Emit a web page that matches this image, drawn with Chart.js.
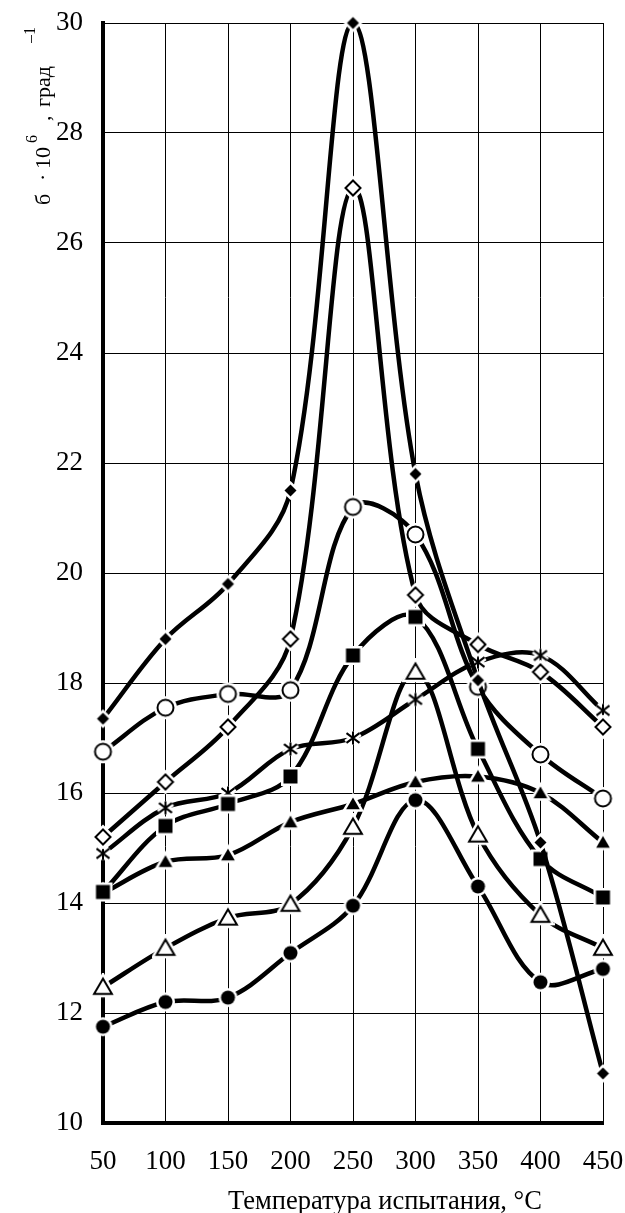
<!DOCTYPE html>
<html>
<head>
<meta charset="utf-8">
<script src="https://cdn.jsdelivr.net/npm/chart.js@4/dist/chart.umd.min.js"></script>
<style>
  html, body { margin: 0; padding: 0; background: #fff; }
  canvas { display: block; }
</style>
</head>
<body>
<canvas id="chart" width="625" height="1213"></canvas>
<script>
// temperature, °C
const temps = [50, 100, 150, 200, 250, 300, 350, 400, 450]
const yTicks = [10, 12, 14, 16, 18, 20, 22, 24, 26, 28, 30]

// б·10^6 per series (marker shape in the name)
const filledDiamond = [17.35, 18.8, 19.8, 21.5, 30.0, 21.8, 18.05, 15.1, 10.9]
const openDiamond = [15.2, 16.2, 17.2, 18.8, 27.0, 19.6, 18.7, 18.2, 17.2]
const openCircle = [16.75, 17.55, 17.8, 17.87, 21.2, 20.7, 17.93, 16.7, 15.9]
const filledSquare = [14.2, 15.4, 15.8, 16.3, 18.5, 19.2, 16.8, 14.8, 14.1]
const asterisk = [14.9, 15.73, 16.0, 16.8, 17.0, 17.7, 18.38, 18.5, 17.5]
const filledTriangle = [14.18, 14.75, 14.87, 15.47, 15.8, 16.2, 16.3, 16.0, 15.1]
const openTriangle = [12.47, 13.18, 13.73, 13.98, 15.38, 18.2, 15.24, 13.78, 13.18]
const filledCircle = [11.75, 12.2, 12.28, 13.09, 13.95, 15.87, 14.3, 12.56, 12.8]

const SERIF = "'Liberation Serif', 'Times New Roman', serif"

// excel-like markers with a white halo round them
function makeMarker(shape, r, filled) {
  const halo = 2.5
  const size = Math.ceil(2 * (r + halo + 3))
  const c = document.createElement("canvas")
  c.width = size
  c.height = size
  const ctx = c.getContext("2d")
  ctx.translate(size / 2, size / 2)

  const path = () => {
    ctx.beginPath()
    if (shape === "diamond") {
      ctx.moveTo(0, -r); ctx.lineTo(r, 0); ctx.lineTo(0, r); ctx.lineTo(-r, 0); ctx.closePath()
    } else if (shape === "square") {
      ctx.rect(-r, -r, 2 * r, 2 * r)
    } else if (shape === "circle") {
      ctx.arc(0, 0, r, 0, Math.PI * 2)
    } else if (shape === "triangle") {
      ctx.moveTo(0, -r); ctx.lineTo(r * 1.05, r * 0.8); ctx.lineTo(-r * 1.05, r * 0.8); ctx.closePath()
    } else if (shape === "asterisk") {
      ctx.moveTo(0, -r); ctx.lineTo(0, r)
      ctx.moveTo(-r, -r * 0.75); ctx.lineTo(r, r * 0.75)
      ctx.moveTo(r, -r * 0.75); ctx.lineTo(-r, r * 0.75)
    }
  }

  ctx.lineJoin = "miter"
  ctx.lineCap = "butt"
  path()
  ctx.strokeStyle = "#fff"
  ctx.lineWidth = 2 * halo + (filled ? 0 : 2)
  if (shape !== "asterisk") {
    ctx.fillStyle = "#fff"
    ctx.fill()
  }
  ctx.stroke()

  path()
  if (shape === "asterisk") {
    ctx.strokeStyle = "#000"
    ctx.lineWidth = 2
    ctx.stroke()
  } else if (filled) {
    ctx.fillStyle = "#000"
    ctx.fill()
  } else {
    ctx.fillStyle = "#fff"
    ctx.fill()
    ctx.strokeStyle = "#000"
    ctx.lineWidth = 2
    ctx.stroke()
  }
  return c
}

const series = [
  { data: filledDiamond, marker: makeMarker("diamond", 6, true) },
  { data: openDiamond, marker: makeMarker("diamond", 7.5, false) },
  { data: openCircle, marker: makeMarker("circle", 8, false) },
  { data: filledSquare, marker: makeMarker("square", 7, true) },
  { data: asterisk, marker: makeMarker("asterisk", 6.5, false) },
  { data: filledTriangle, marker: makeMarker("triangle", 6.5, true) },
  { data: openTriangle, marker: makeMarker("triangle", 8.5, false) },
  { data: filledCircle, marker: makeMarker("circle", 7, true) },
]

// axis titles drawn by hand (superscripts, offset placement)
const titles = {
  id: "titles",
  afterDraw(chart) {
    const ctx = chart.ctx
    ctx.save()
    ctx.fillStyle = "#000"
    ctx.textBaseline = "alphabetic"

    // x title
    ctx.font = "26.5px " + SERIF
    ctx.textAlign = "center"
    ctx.fillText("Температура испытания, °С", 385, 1209)

    // y title, rotated, reading upwards
    ctx.translate(50, 205)
    ctx.rotate(-Math.PI / 2)
    ctx.textAlign = "left"
    const main = "22px " + SERIF
    const sup = "16px " + SERIF
    ctx.font = main
    ctx.fillText("б", 0, 0)
    ctx.fillText("·", 24, 0)
    ctx.fillText("10", 36, 0)
    ctx.fillText(",", 84, 0)
    ctx.fillText("град", 98, 0)
    ctx.font = sup
    ctx.fillText("6", 62, -13)
    ctx.fillText("–1", 162, -15)
    ctx.restore()
  }
}

// keep the plot area exactly where the layout padding puts it
function noOverhang(scale) {
  scale.paddingLeft = 0
  scale.paddingRight = 0
  scale.paddingTop = 0
  scale.paddingBottom = 0
}

new Chart(document.getElementById("chart"), {
  type: "line",
  data: {
    labels: temps,
    datasets: series.map((s) => ({
      data: s.data,
      borderColor: "#000",
      borderWidth: 4.5,
      tension: 0.35,
      fill: false,
      clip: false,
      pointStyle: s.marker,
      pointRadius: 6,
    })),
  },
  options: {
    responsive: false,
    animation: false,
    devicePixelRatio: 1,
    layout: { padding: { top: 23, right: 22, left: 0, bottom: 0 } },
    plugins: {
      legend: { display: false },
      tooltip: { enabled: false },
    },
    scales: {
      x: {
        type: "category",
        offset: false,
        grid: { color: "#000", lineWidth: 1, drawTicks: false },
        border: { color: "#000", width: 4 },
        ticks: {
          color: "#000",
          font: { family: SERIF, size: 27 },
          padding: 23,
          maxRotation: 0,
          autoSkip: false,
        },
        afterFit(scale) { scale.height = 90; noOverhang(scale) },
      },
      y: {
        min: 10,
        max: 30,
        afterBuildTicks(scale) { scale.ticks = yTicks.map((v) => ({ value: v })) },
        grid: { color: "#000", lineWidth: 1, drawTicks: false },
        border: { color: "#000", width: 4 },
        ticks: {
          color: "#000",
          font: { family: SERIF, size: 27 },
          padding: 20,
        },
        afterFit(scale) { scale.width = 103; noOverhang(scale) },
      },
    },
  },
  plugins: [titles],
})
</script>
</body>
</html>
